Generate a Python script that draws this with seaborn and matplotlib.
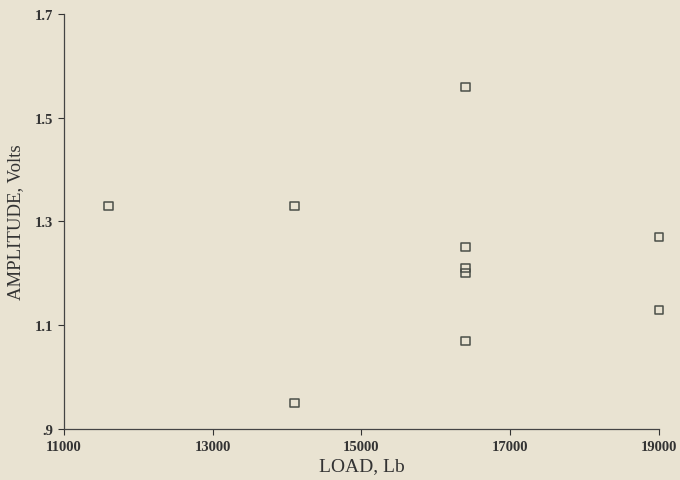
import numpy as np
import pandas as pd
import matplotlib
matplotlib.use("Agg")
import matplotlib.pyplot as plt
import seaborn as sns

# values
load_lb = [11600, 14100, 14100, 16400, 16400, 16400, 16400, 16400, 19000, 19000]
amplitude_v = [1.33, 1.33, 0.95, 1.56, 1.25, 1.21, 1.20, 1.07, 1.27, 1.13]

x_ticks = [11000, 13000, 15000, 17000, 19000]
y_ticks = [0.9, 1.1, 1.3, 1.5, 1.7]
y_labels = [".9", "1.1", "1.3", "1.5", "1.7"]

df = pd.DataFrame({"load": load_lb, "amp": amplitude_v})

sns.set_style("ticks")
plt.rcParams["font.family"] = ["Liberation Serif", "DejaVu Serif"]

bg = "#e9e3d2"
fig = plt.figure(figsize=(6.8, 4.81), dpi=100, facecolor=bg)
ax = fig.add_axes([0.094, 0.106, 0.875, 0.863])
ax.set_facecolor(bg)

sns.scatterplot(data=df, x="load", y="amp", ax=ax, marker="s", s=34,
                facecolor="none", edgecolor="#4a4f48", linewidth=1.1,
                clip_on=False, zorder=3)

ax.set_xlim(11000, 19000)
ax.set_ylim(0.9, 1.7)
ax.set_xticks(x_ticks)
ax.set_xticklabels([str(t) for t in x_ticks], fontsize=10.5, fontweight="bold")
ax.set_yticks(y_ticks)
ax.set_yticklabels(y_labels, fontsize=10.5, fontweight="bold")
ax.tick_params(axis="both", length=4, width=0.8, color="#333333", labelcolor="#333333")
ax.tick_params(axis="x", pad=4)

ax.set_xlabel("LOAD, Lb", fontsize=14, color="#333333", labelpad=3)
ax.set_ylabel("AMPLITUDE, Volts", fontsize=13.5, color="#333333", labelpad=8)

sns.despine(ax=ax)
for sp in ["left", "bottom"]:
    ax.spines[sp].set_color("#444444")
    ax.spines[sp].set_linewidth(0.9)

fig.savefig("out.png", dpi=100, facecolor=bg)
